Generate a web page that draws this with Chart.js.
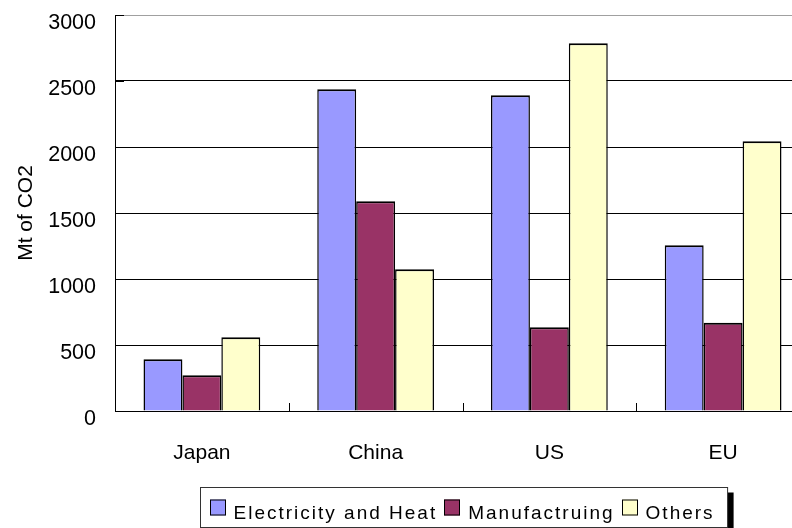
<!DOCTYPE html>
<html>
<head>
<meta charset="utf-8">
<script src="https://cdn.jsdelivr.net/npm/chart.js@4/dist/chart.umd.min.js"></script>
<style>
  html, body { margin: 0; padding: 0; background: #fff; overflow: hidden; width: 792px; height: 528px; }
  #wrap { position: absolute; left: 0; top: 0; width: 812px; height: 528px; }
</style>
</head>
<body>
<div id="wrap"><canvas id="c" width="812" height="528"></canvas></div>
<script>
// CO2 emissions by sector (Mt of CO2)
const regions = ['Japan', 'China', 'US', 'EU'];
const electricityHeat = [392, 2437, 2392, 1255];
const manufacturing = [270, 1589, 634, 669];
const others = [558, 1073, 2786, 2043];
const seriesNames = ['Electricity and Heat', 'Manufactruing', 'Others'];
const seriesColors = ['#9999FF', '#993366', '#FFFFCC'];
const yTicks = [0, 500, 1000, 1500, 2000, 2500, 3000];
const yTitle = 'Mt of CO2';

const FONT = '"Liberation Sans", Arial, sans-serif';

// Short inward tick marks on both axes
const innerTicks = {
  id: 'innerTicks',
  afterDatasetsDraw(chart) {
    const { ctx, chartArea, scales } = chart;
    ctx.save();
    ctx.strokeStyle = '#000';
    ctx.lineWidth = 1;
    ctx.beginPath();
    for (let i = 0; i < regions.length - 1; i++) {
      const x = Math.round(scales.x.getPixelForValue(i + 0.5)) + 0.5;
      ctx.moveTo(x, chartArea.bottom);
      ctx.lineTo(x, chartArea.bottom - 8);
    }
    yTicks.forEach(v => {
      const y = Math.round(scales.y.getPixelForValue(v)) + 0.5;
      ctx.moveTo(chartArea.left, y);
      ctx.lineTo(chartArea.left + 9, y);
    });
    ctx.stroke();
    ctx.restore();
  }
};

// Boxed legend with a drop shadow, centred under the plot area
const boxedLegend = {
  id: 'boxedLegend',
  afterDraw(chart) {
    const { ctx, chartArea } = chart;
    const ds = chart.data.datasets;
    ctx.save();
    ctx.font = '19px ' + FONT;
    ctx.letterSpacing = '2px';
    const sw = 16, gapSw = 8, gapItem = 7, padL = 9, padR = 13;
    const widths = ds.map(d => ctx.measureText(d.label).width);
    let w = padL + padR + gapItem * (ds.length - 1);
    widths.forEach(tw => { w += sw + gapSw + tw; });
    const h = 40;
    const left = Math.round((chartArea.left + chartArea.right) / 2 + 1.5 - w / 2) + 0.5;
    const top = chart.height - h - 1 + 0.5;

    ctx.fillStyle = '#000';
    ctx.fillRect(left + 6, top + 5, w, h);
    ctx.fillStyle = '#fff';
    ctx.fillRect(left, top, w, h);
    ctx.strokeStyle = '#333';
    ctx.lineWidth = 1;
    ctx.strokeRect(left, top, w, h);

    let x = left + padL;
    const swTop = top + 12;
    ctx.textBaseline = 'alphabetic';
    ctx.textAlign = 'left';
    ds.forEach((d, i) => {
      ctx.fillStyle = d.backgroundColor;
      ctx.fillRect(Math.round(x), swTop, sw, sw);
      ctx.strokeStyle = '#000';
      ctx.strokeRect(Math.round(x) + 0.5, swTop + 0.5, sw - 1, sw - 1);
      x += sw + gapSw;
      ctx.fillStyle = '#000';
      ctx.fillText(d.label, x, top + 31);
      x += widths[i] + gapItem;
    });
    ctx.restore();
  }
};

const seriesData = [electricityHeat, manufacturing, others];

new Chart(document.getElementById('c'), {
  type: 'bar',
  data: {
    labels: regions,
    datasets: seriesNames.map((name, i) => ({
      label: name,
      data: seriesData[i],
      backgroundColor: seriesColors[i],
      borderColor: '#000',
      borderWidth: { top: 2, left: 1.5, right: 1.5, bottom: 0 },
      borderSkipped: 'start',
      categoryPercentage: 0.672,
      barPercentage: 1
    }))
  },
  options: {
    responsive: false,
    animation: false,
    devicePixelRatio: 1,
    layout: { padding: { left: 0, top: 15, right: 2, bottom: 0 } },
    plugins: {
      legend: { display: false },
      tooltip: { enabled: false }
    },
    scales: {
      x: {
        type: 'category',
        offset: true,
        grid: { display: false },
        border: { display: true, color: '#000', width: 1 },
        ticks: { color: '#000', font: { family: FONT, size: 21 }, padding: 22, maxRotation: 0 },
        afterFit(scale) { scale.height = 117; scale.paddingLeft = 0; scale.paddingRight = 0; }
      },
      y: {
        min: 0,
        max: 3000,
        afterBuildTicks(scale) { scale.ticks = yTicks.map(v => ({ value: v })); },
        grid: {
          color: ctx => (ctx.tick && ctx.tick.value === 3000 ? '#a0a0a0' : '#000'),
          lineWidth: 1,
          drawTicks: false
        },
        border: { display: true, color: '#000', width: 1 },
        ticks: {
          color: '#000',
          font: { family: FONT, size: 21.5 },
          padding: 19,
          labelOffset: 8,
          callback: v => String(v)
        },
        title: {
          display: true,
          text: yTitle,
          color: '#000',
          font: { family: FONT, size: 21 },
          padding: { top: 14, bottom: 0 }
        },
        afterFit(scale) { scale.width = 115; scale.paddingTop = 0; scale.paddingBottom = 0; }
      }
    }
  },
  plugins: [innerTicks, boxedLegend]
});
</script>
</body>
</html>
